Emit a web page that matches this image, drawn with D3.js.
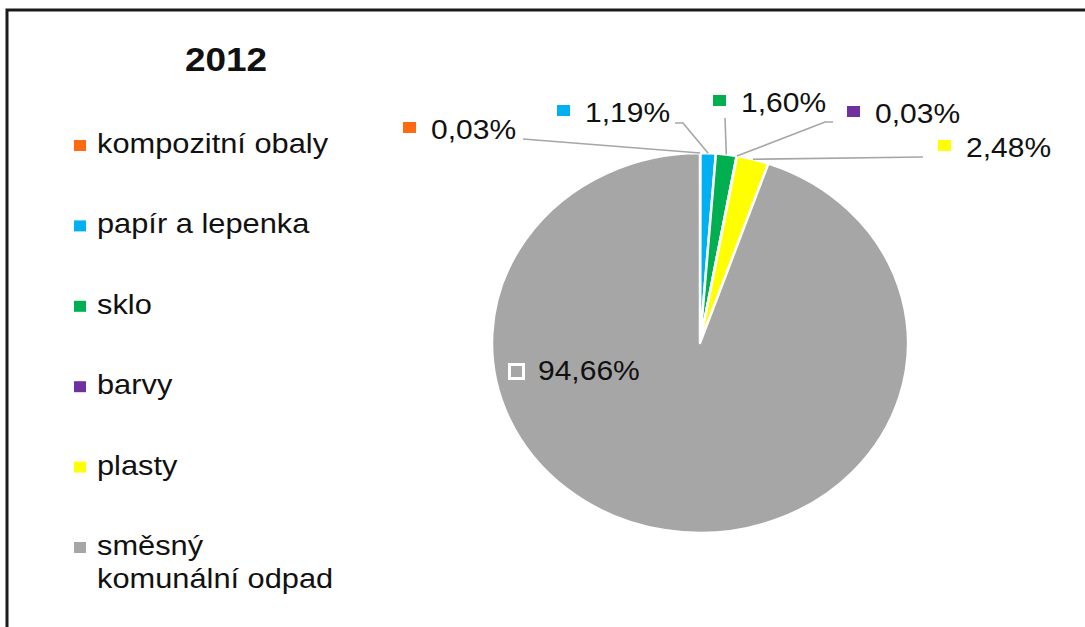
<!DOCTYPE html>
<html><head><meta charset="utf-8">
<script src="https://cdn.jsdelivr.net/npm/d3@7"></script>
<style>html,body{margin:0;padding:0;background:#fff;overflow:hidden}</style>
</head><body>
<svg id="c" width="1085" height="627"></svg>
<script>
// ---- data ----
const title = "2012";
const categories = ["kompozitní obaly","papír a lepenka","sklo","barvy","plasty","směsný komunální odpad"];
const values = [0.03, 1.19, 1.60, 0.03, 2.48, 94.66];
const valueLabels = ["0,03%","1,19%","1,60%","0,03%","2,48%","94,66%"];

// ---- styles / layout ----
const colors = ["#FF6A10","#00B0F0","#00B050","#7030A0","#FFFF00","#A6A6A6"];
const font = "'Liberation Sans', Arial, sans-serif";
const sx = 1.12;                 // horizontal stretch of the original picture
const cx = 700, cy = 343, ry = 190, rx = 208;
// label anchor: [marker left x, text baseline y]
const labelPos = [[403,139],[557,122],[713,112],[847,123],[938,157],[508,380]];
// leader line outer points (from label towards slice), null = none
const leaderPts = [
  [[523,139]],
  [[675,123],[683,123]],
  [[725,118]],
  [[833,122],[825,122]],
  [[923,157]],
  null
];

const svg = d3.select("#c");

// frame
svg.append("rect").attr("x",7).attr("y",10).attr("width",1200).attr("height",800)
  .attr("fill","none").attr("stroke","#1a1a1a").attr("stroke-width",3);

function txt(x, y, s, size, weight, fill){
  return svg.append("text").attr("transform",`translate(${x},${y}) scale(${sx},1)`)
    .attr("font-family",font).attr("font-size",size).attr("font-weight",weight||"normal")
    .attr("fill",fill||"#111").text(s);
}

// title
txt(226, 71, title, 33, "bold").attr("text-anchor","middle");

// legend
const legendY = d3.scalePoint().domain(categories).range([153, 555]);
categories.forEach((c,i)=>{
  const y = legendY(c);
  svg.append("rect").attr("x",74).attr("y",y-13).attr("width",12).attr("height",11).attr("fill",colors[i]);
  const words = c.split(" ");
  if (c.length > 18) {
    txt(97, y, words[0], 27.5);
    txt(97, y+33, words.slice(1).join(" "), 27.5);
  } else {
    txt(97, y, c, 27.5);
  }
});

// pie
const pie = d3.pie().sort(null).value(d=>d)(values);
const arc = d3.arc().innerRadius(0).outerRadius(ry);
const g = svg.append("g").attr("transform",`translate(${cx},${cy}) scale(${rx/ry},1)`);
g.selectAll("path").data(pie).join("path")
  .attr("d",arc).attr("fill",(d,i)=>colors[i])
  .attr("stroke","#fff").attr("stroke-width",2.5).attr("vector-effect","non-scaling-stroke")
  .attr("stroke-linejoin","round");

// leader lines
pie.forEach((d,i)=>{
  if(!leaderPts[i]) return;
  const a = (d.startAngle + d.endAngle)/2;
  const edge = [cx + rx*Math.sin(a), cy - ry*Math.cos(a)];
  const pts = leaderPts[i].concat([edge]);
  svg.append("path").attr("d", d3.line()(pts)).attr("fill","none")
    .attr("stroke","#A6A6A6").attr("stroke-width",1.6);
});

// data labels
pie.forEach((d,i)=>{
  const [x,y] = labelPos[i];
  if (i === 5) {
    svg.append("rect").attr("x",x+1.5).attr("y",y-15.5).attr("width",14).attr("height",14)
      .attr("fill",colors[i]).attr("stroke","#fff").attr("stroke-width",3);
    txt(x+30, y, valueLabels[i], 26.8);
  } else {
    svg.append("rect").attr("x",x).attr("y",y-17).attr("width",13).attr("height",11).attr("fill",colors[i]);
    txt(x+28, y, valueLabels[i], 26.8);
  }
});
</script>
</body></html>
